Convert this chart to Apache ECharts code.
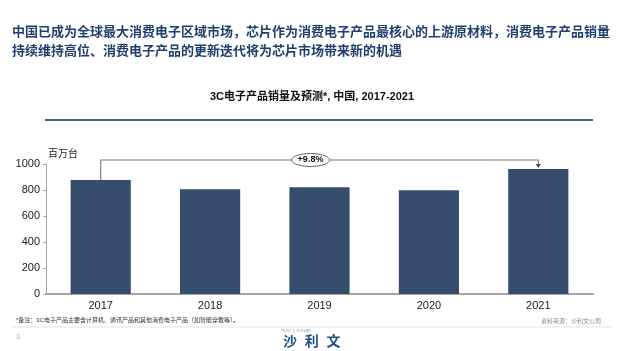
<!DOCTYPE html>
<html>
<head>
<meta charset="utf-8">
<script src="https://cdn.jsdelivr.net/npm/echarts@6/dist/echarts.min.js"></script>
<style>
  html, body { margin: 0; padding: 0; background: #fff; }
  #chart { width: 624px; height: 351px; }
</style>
</head>
<body>
<div id="chart"></div>
<script>
const years = ['2017', '2018', '2019', '2020', '2021'];
const sales = [877, 805, 821, 798, 962];
const yTicks = [0, 200, 400, 600, 800, 1000];
const growthLabel = '+9.8%';

const headline = [
  '中国已成为全球最大消费电子区域市场，芯片作为消费电子产品最核心的上游原材料，消费电子产品销量',
  '持续维持高位、消费电子产品的更新迭代将为芯片市场带来新的机遇'
];
const chartTitle = '3C电子产品销量及预测*, 中国, 2017-2021';
const unitText = '百万台';
const noteText = '*备注：3C电子产品主要含计算机、通讯产品和其他消费电子产品（如智能穿戴等）。';
const sourceText = '资料来源：沙利文公司';

const FONT = '"Liberation Sans", Arial, "Noto Sans CJK SC", sans-serif';
const chart = echarts.init(document.getElementById('chart'));

const option = {
  animation: false,
  textStyle: { fontFamily: FONT },
  grid: { left: 46, right: 31, top: 164, bottom: 57 },
  xAxis: {
    type: 'category',
    data: years,
    axisLine: { lineStyle: { color: '#a6a6a6', width: 2 } },
    axisTick: { show: false },
    axisLabel: { color: '#222', fontSize: 11, margin: 6 }
  },
  yAxis: {
    type: 'value',
    min: yTicks[0],
    max: yTicks[yTicks.length - 1],
    interval: 200,
    splitLine: { show: false },
    axisLine: { show: true, lineStyle: { color: '#a6a6a6' } },
    axisTick: { show: true, length: 3, lineStyle: { color: '#a6a6a6' } },
    axisLabel: { color: '#222', fontSize: 11, margin: 6, formatter: v => String(v) }
  },
  series: [{
    type: 'bar',
    data: sales,
    barWidth: '55%',
    itemStyle: { color: '#364c6c' }
  }],
  graphic: []
};
chart.setOption(option);

// annotation bracket computed from the data
const p0 = chart.convertToPixel({ seriesIndex: 0 }, [0, sales[0]]);
const p4 = chart.convertToPixel({ seriesIndex: 0 }, [4, sales[4]]);
const topY = chart.convertToPixel({ seriesIndex: 0 }, [0, 1000])[1] - 4;
const midX = (p0[0] + p4[0]) / 2 - 9;

const graphics = [
  { type: 'text', left: 12, top: 26, style: { text: headline[0], fill: '#1f3f6e', font: 'bold 13px ' + FONT } },
  { type: 'text', left: 12, top: 45, style: { text: headline[1], fill: '#1f3f6e', font: 'bold 13px ' + FONT } },
  { type: 'text', left: 'center', top: 91, style: { text: chartTitle, fill: '#111', font: 'bold 11px ' + FONT } },
  { type: 'line', shape: { x1: 45, y1: 120, x2: 593, y2: 120 }, style: { stroke: '#3e6587', lineWidth: 2 } },
  { type: 'text', left: 48, top: 149, style: { text: unitText, fill: '#222', font: '10px ' + FONT } },
  { type: 'polyline', shape: { points: [[p0[0], p0[1]], [p0[0], topY], [p4[0], topY], [p4[0], p4[1] - 3]] },
    style: { stroke: '#7f7f7f', lineWidth: 1.2, fill: null } },
  { type: 'polygon', shape: { points: [[p4[0] - 2.5, p4[1] - 5], [p4[0] + 2.5, p4[1] - 5], [p4[0], p4[1] - 1]] },
    style: { fill: '#444' } },
  { type: 'ellipse', shape: { cx: midX, cy: topY, rx: 19, ry: 6.5 }, style: { fill: '#fff', stroke: '#666', lineWidth: 1 } },
  { type: 'text', x: midX, y: topY, style: { text: growthLabel, fill: '#111', font: 'bold 9px ' + FONT, align: 'center', verticalAlign: 'middle' } },
  { type: 'text', left: 16, top: 317, style: { text: noteText, fill: '#333', font: '6px ' + FONT } },
  { type: 'text', right: 23, top: 318, style: { text: sourceText, fill: '#888', font: '6px ' + FONT } },
  { type: 'line', shape: { x1: 12, y1: 327, x2: 613, y2: 327 }, style: { stroke: '#e3e3e3', lineWidth: 1 } },
  { type: 'text', left: 16, top: 334, style: { text: '3', fill: '#aaa', font: '7px ' + FONT } },
  { type: 'text', left: 281, top: 330, style: { text: 'FROST  &  SULLIVAN', fill: '#8aa0b8', font: '3px ' + FONT } },
  { type: 'text', left: 283, top: 335, style: { text: '沙  利  文', fill: '#1f4e8c', font: 'bold 14px ' + FONT } }
];
chart.setOption({ graphic: graphics });
</script>
</body>
</html>
